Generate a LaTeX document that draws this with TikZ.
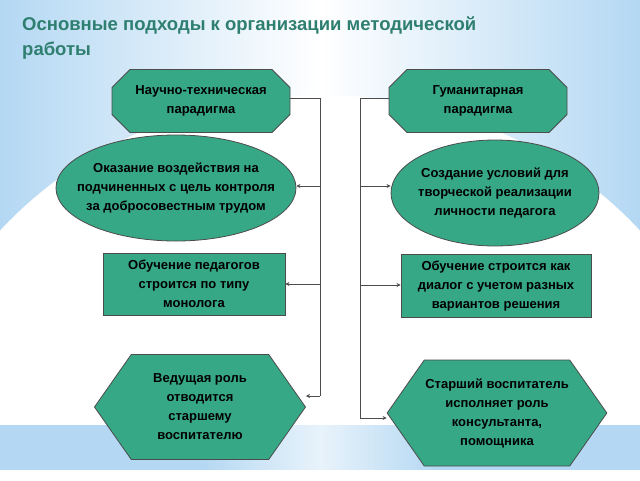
\documentclass[tikz,border=0pt]{standalone}
\usepackage{fontspec}
\setmainfont{Liberation Sans}
\usetikzlibrary{shapes.geometric,shapes.misc,shapes.symbols,arrows.meta}
\definecolor{bg}{HTML}{B4D8F3}
\definecolor{fillg}{HTML}{36A886}
\definecolor{titc}{HTML}{2F7F70}
\tikzset{
  box/.style={fill=fillg,draw=black!70,line width=0.8pt,align=center,font=\bfseries\fontsize{13}{19}\selectfont,inner sep=1pt},
  oct/.style={box,chamfered rectangle,chamfered rectangle xsep=9pt,chamfered rectangle ysep=9pt,minimum width=178pt,minimum height=63pt},
  ell/.style={box,ellipse,inner xsep=-22pt,inner ysep=-12pt},
  rct/.style={box,rectangle},
  hexa/.style={box,signal,signal to=west and east,signal pointer angle=110},
  conn/.style={draw=black!70,line width=0.7pt,-{Stealth[length=4pt,width=4pt]}},
  plain/.style={draw=black!70,line width=0.7pt}
}
\begin{document}
\begin{tikzpicture}[x=1pt,y=-1pt]
\useasboundingbox (0,0) rectangle (640,480);
\shade[left color=bg,right color=bg,middle color=white] (0,0) rectangle (640,480);
\fill[white] (320,480) ellipse[x radius=420,y radius=385];
\fill[bg] (0,425) rectangle (640,470);
\shade[left color=bg,right color=bg,middle color=white,opacity=0.7] (200,425) rectangle (440,470);
\fill[white] (0,470) rectangle (640,480);
\node[anchor=north west,text=titc,align=left,font=\bfseries\fontsize{18.5}{25}\selectfont,inner sep=0pt] (title) at (22,17) {Основные подходы к организации методической\\работы};
\node[oct] (n1) at (201,101) {Научно-техническая\\парадигма};
\node[oct] (n2) at (478,101) {Гуманитарная\\парадигма};
\node[ell,minimum width=240pt,minimum height=106pt] (l1) at (176,188) {Оказание воздействия на\\подчиненных с цель контроля\\за добросовестным трудом};
\node[ell,minimum width=208pt,minimum height=106pt] (r1) at (495,193) {Создание условий для\\творческой реализации\\личности педагога};
\node[rct,minimum width=182pt,minimum height=62pt] (l2) at (194,284) {Обучение педагогов\\строится по типу\\монолога};
\node[rct,minimum width=190pt,minimum height=63pt] (r2) at (496,286) {Обучение строится как\\диалог с учетом разных\\вариантов решения};
\node[hexa,minimum width=211pt,minimum height=105pt] (l3) at (200,407) {Ведущая роль\\отводится\\старшему\\воспитателю};
\node[hexa,minimum width=213pt,minimum height=106pt] (r3) at (497,413) {Старший воспитатель\\исполняет роль\\консультанта,\\помощника};
\coordinate (lt) at (320,98);
\coordinate (lb) at (320,396);
\coordinate (rt) at (360,98);
\coordinate (rb) at (360,418);
\draw[plain] (n1.east |- lt) -- (lt) -- (lb);
\draw[plain] (n2.west |- rt) -- (rt) -- (rb);
\draw[conn] (320,186) -- (l1.east |- 0,186);
\draw[conn] (320,284) -- (l2.east |- 0,284);
\draw[conn] (lb) -- (l3.east |- lb);
\draw[conn] (360,186) -- (r1.west |- 0,186);
\draw[conn] (360,285) -- (r2.west |- 0,285);
\draw[conn] (rb) -- (r3.west |- rb);
\end{tikzpicture}
\end{document}
